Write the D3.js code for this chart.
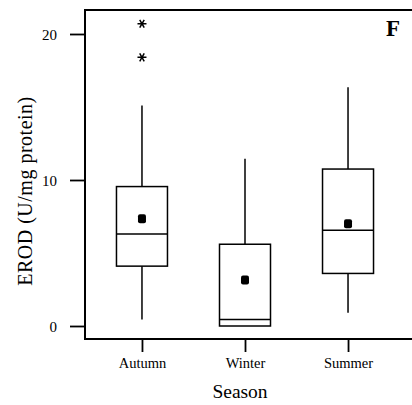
<!DOCTYPE html>
<html><head><meta charset="utf-8">
<script src="https://cdn.jsdelivr.net/npm/d3@7"></script>
<style>body{margin:0;background:#fff}svg{display:block}svg text{font-family:"Liberation Serif","Times New Roman",Times,"DejaVu Serif",serif !important}</style>
</head><body>
<script>
const categories = ["Autumn", "Winter", "Summer"];
const whiskerLow = [0.45, 0.0, 0.9];
const q1 = [4.1, 0.0, 3.6];
const median = [6.3, 0.45, 6.55];
const q3 = [9.55, 5.6, 10.75];
const whiskerHigh = [15.1, 11.45, 16.35];
const means = [7.35, 3.15, 7.0];
const outlierCategory = ["Autumn", "Autumn"];
const outlierValue = [20.7, 18.4];
const yTicks = [0, 10, 20];

(function () {
const W = 412, H = 405;
const svg = d3.select("body").append("svg").attr("width", W).attr("height", H);

const x = d3.scalePoint().domain(categories).range([85, 405]).padding(0.553);
const y = d3.scaleLinear().domain([0, 20]).range([326, 34]);
const pLeft = 85, pRight = 412, pTop = 10, pBottom = 339;

svg.append("path").attr("d", `M${pRight},${pTop}H${pLeft}V${pBottom}H${pRight}`)
  .attr("fill", "none").attr("stroke", "#000").attr("stroke-width", 2);

const yAxis = d3.axisLeft(y).tickValues(yTicks).tickSize(15).tickPadding(13);
const gy = svg.append("g").attr("transform", `translate(${pLeft},0)`).call(yAxis);
gy.select(".domain").remove();
gy.selectAll("line").attr("stroke-width", 1.8);
gy.selectAll("text").attr("font-size", 15).attr("dy", "0.35em");

const xAxis = d3.axisBottom(x).tickSize(13).tickPadding(7);
const gx = svg.append("g").attr("transform", `translate(0,${pBottom})`).call(xAxis);
gx.select(".domain").remove();
gx.selectAll("line").attr("stroke-width", 1.8);
gx.selectAll("text").attr("font-size", 14.5).attr("y", 29).attr("dy", 0);

svg.append("text").attr("x", 240).attr("y", 398).attr("text-anchor", "middle")
  .attr("font-size", 19.5).text("Season");
svg.append("text").attr("transform", "translate(32,191) rotate(-90)").attr("text-anchor", "middle")
  .attr("font-size", 20).attr("letter-spacing", 0.5).text("EROD (U/mg protein)");
svg.append("text").attr("x", 386).attr("y", 36)
  .attr("font-size", 23).attr("font-weight", "bold").text("F");

const bw = 51;
const g = svg.append("g");
categories.forEach((c, i) => {
  const cx = x(c);
  g.append("line").attr("x1", cx).attr("x2", cx).attr("y1", y(whiskerHigh[i])).attr("y2", y(q3[i]))
    .attr("stroke", "#000").attr("stroke-width", 1.5);
  g.append("line").attr("x1", cx).attr("x2", cx).attr("y1", y(q1[i])).attr("y2", y(whiskerLow[i]))
    .attr("stroke", "#000").attr("stroke-width", 1.5);
  g.append("rect").attr("x", cx - bw / 2).attr("width", bw)
    .attr("y", y(q3[i])).attr("height", y(q1[i]) - y(q3[i]))
    .attr("fill", "none").attr("stroke", "#000").attr("stroke-width", 1.5);
  g.append("line").attr("x1", cx - bw / 2).attr("x2", cx + bw / 2)
    .attr("y1", y(median[i])).attr("y2", y(median[i])).attr("stroke", "#000").attr("stroke-width", 1.5);
  g.append("rect").attr("x", cx - 4).attr("y", y(means[i]) - 4.5).attr("width", 8).attr("height", 9)
    .attr("rx", 2).attr("fill", "#000");
});

outlierValue.forEach((v, i) => {
  const cx = x(outlierCategory[i]), cy = y(v), r = 4.5;
  let d = "";
  [0, 60, 120].forEach(a => {
    const t = a * Math.PI / 180;
    d += `M${cx - r * Math.cos(t)},${cy - r * Math.sin(t)}L${cx + r * Math.cos(t)},${cy + r * Math.sin(t)}`;
  });
  g.append("path").attr("d", d).attr("stroke", "#000").attr("stroke-width", 1.5).attr("fill", "none");
});
})();
</script>
</body></html>
